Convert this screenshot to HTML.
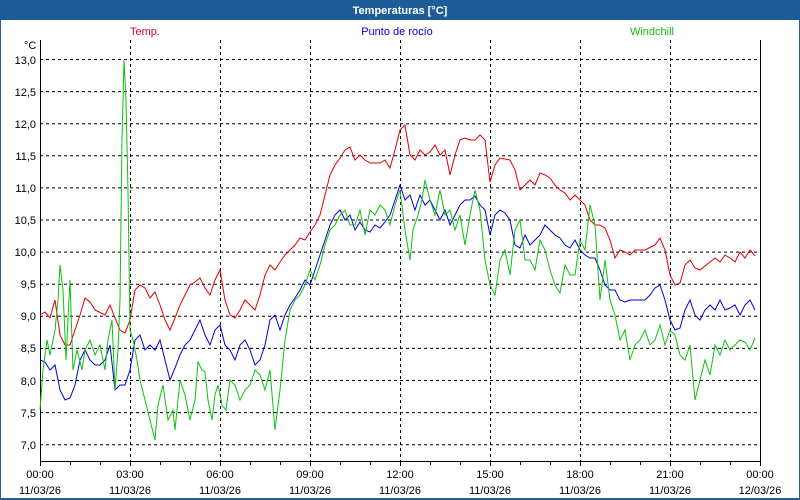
<!DOCTYPE html><html><head><style>body{margin:0;width:800px;height:500px;overflow:hidden;background:#fff}svg{display:block}text{font-family:"Liberation Sans",sans-serif;font-size:11px}</style></head><body>
<svg width="800" height="500" viewBox="0 0 800 500">
<rect x="0" y="0" width="800" height="500" fill="#2a6099"/>
<rect x="0" y="0" width="800" height="20" fill="#1e5c97"/>
<rect x="1" y="20" width="798" height="478" fill="#fff"/>
<text x="400" y="14" text-anchor="middle" fill="#fff" font-weight="bold">Temperaturas [°C]</text>
<text x="145" y="35" text-anchor="middle" fill="#e00030">Temp.</text>
<text x="397" y="35" text-anchor="middle" fill="#0000e0">Punto de rocío</text>
<text x="652" y="35" text-anchor="middle" fill="#10c010">Windchill</text>
<text x="24" y="49" text-anchor="start">°C</text>
<g stroke="#000" stroke-dasharray="3,3" stroke-width="1">
<path d="M40 59.5H760M40 91.6H760M40 123.7H760M40 155.8H760M40 187.9H760M40 220H760M40 252.1H760M40 284.2H760M40 316.3H760M40 348.4H760M40 380.5H760M40 412.6H760M40 444.7H760"/>
<path d="M130.5 40V461M220.5 40V461M310.5 40V461M400.5 40V461M490.5 40V461M580.5 40V461M670.5 40V461"/>
</g>
<path d="M40.5 40V461.5H760.5V40" stroke="#000" fill="none"/>
<g stroke="#000"><path d="M40.5 461v5M70.5 461v4M100.5 461v4M130.5 461v5M160.5 461v4M190.5 461v4M220.5 461v5M250.5 461v4M280.5 461v4M310.5 461v5M340.5 461v4M370.5 461v4M400.5 461v5M430.5 461v4M460.5 461v4M490.5 461v5M520.5 461v4M550.5 461v4M580.5 461v5M610.5 461v4M640.5 461v4M670.5 461v5M700.5 461v4M730.5 461v4M760.5 461v5"/></g>
<g text-anchor="end">
<text x="36" y="64">13,0</text><text x="36" y="96">12,5</text><text x="36" y="128">12,0</text><text x="36" y="160">11,5</text><text x="36" y="192">11,0</text><text x="36" y="224">10,5</text><text x="36" y="256">10,0</text><text x="36" y="288">9,5</text><text x="36" y="320">9,0</text><text x="36" y="352">8,5</text><text x="36" y="385">8,0</text><text x="36" y="417">7,5</text><text x="36" y="449">7,0</text>
</g>
<g text-anchor="middle">
<text x="40" y="478">00:00</text><text x="40" y="494">11/03/26</text>
<text x="130" y="478">03:00</text><text x="130" y="494">11/03/26</text>
<text x="220" y="478">06:00</text><text x="220" y="494">11/03/26</text>
<text x="310" y="478">09:00</text><text x="310" y="494">11/03/26</text>
<text x="400" y="478">12:00</text><text x="400" y="494">11/03/26</text>
<text x="490" y="478">15:00</text><text x="490" y="494">11/03/26</text>
<text x="580" y="478">18:00</text><text x="580" y="494">11/03/26</text>
<text x="670" y="478">21:00</text><text x="670" y="494">11/03/26</text>
<text x="760" y="478">00:00</text><text x="760" y="494">12/03/26</text>
</g>
<polyline fill="none" stroke="#e00000" points="40,315 45,312 50,318 55,300 60,335 65,345 70,345 75,330 80,315 85,298 90,302 95,310 105,315 110,305 115,318 120,330 125,333 130,320 135,290 140,285 145,288 150,298 155,292 160,305 165,320 170,330 175,318 180,305 185,295 190,285 195,282 200,278 205,288 210,295 215,280 220,270 225,300 230,315 235,318 240,310 245,300 250,305 255,310 260,295 265,275 270,265 275,270 280,262 285,255 290,250 295,245 300,238 305,240 310,232 315,225 320,215 325,195 330,175 335,165 340,158 345,150 350,147 355,160 360,155 365,160 370,163 380,163 385,160 390,168 395,150 400,130 405,125 410,155 415,160 420,150 425,155 430,152 435,145 440,155 445,150 450,175 455,155 460,140 465,138 470,140 475,140 480,135 485,140 490,182 495,165 500,158 510,160 515,170 520,190 525,185 530,180 535,185 540,173 545,175 550,178 555,185 560,190 565,193 570,200 575,195 580,200 585,205 590,220 595,225 600,225 605,228 610,240 615,258 620,250 625,252 630,255 635,250 645,250 655,245 660,238 665,250 670,275 675,285 680,283 685,265 690,260 695,268 700,270 710,262 715,258 720,262 725,255 730,258 735,262 740,252 745,258 750,250 755,256"/>
<polyline fill="none" stroke="#0000e0" points="40,360 45,362 50,370 55,365 60,390 65,400 70,398 75,385 80,360 85,350 90,360 95,365 100,365 105,360 110,345 115,390 120,385 125,385 130,370 135,340 140,335 145,350 150,345 155,350 160,340 165,360 170,380 175,368 180,355 185,345 190,340 195,330 200,320 205,335 210,345 215,330 220,325 225,345 230,350 235,360 240,345 245,340 250,350 255,365 260,360 265,345 270,320 275,315 280,330 285,315 290,305 295,298 300,290 305,280 310,285 315,270 320,255 325,240 330,225 335,215 340,210 345,220 350,215 355,230 360,222 365,230 370,232 375,225 380,228 385,222 390,215 395,200 400,185 405,200 410,195 415,210 420,195 425,205 430,200 435,210 440,220 445,210 450,225 455,215 460,205 465,200 470,200 475,196 480,205 485,210 490,235 495,215 500,210 505,213 510,220 515,245 520,248 525,235 530,245 535,240 540,235 545,225 550,230 555,235 560,238 565,245 570,248 575,240 580,250 585,255 590,258 595,258 600,270 605,285 610,290 615,290 620,300 625,302 630,300 640,300 645,300 650,295 655,288 660,285 665,300 670,320 675,330 680,328 685,310 690,300 695,315 700,320 705,310 710,305 715,310 720,300 725,310 730,308 735,305 740,315 745,305 750,300 755,310"/>
<polyline fill="none" stroke="#10c010" points="40,410 43,370 47,340 50,355 55,330 58,300 60,265 63,290 66,360 70,280 73,370 77,350 82,370 85,350 90,340 95,355 100,345 105,370 108,340 112,320 115,390 118,350 120,300 122,140 124,60 126,100 128,190 130,330 133,340 137,360 140,380 145,400 150,420 155,440 158,405 163,385 168,420 173,410 175,430 180,380 185,395 190,420 195,400 198,362 202,370 205,372 208,400 212,420 215,395 218,385 222,405 226,410 230,380 235,385 240,400 245,390 250,385 255,370 260,375 265,390 270,370 275,430 280,390 285,340 290,310 295,300 300,295 305,285 310,270 315,280 320,265 325,245 330,230 335,225 340,215 345,210 350,225 355,225 360,210 365,235 370,210 375,215 380,205 385,210 390,225 395,205 400,190 405,230 410,260 413,230 418,215 422,200 425,180 430,200 435,215 440,190 445,215 450,210 455,230 460,215 465,245 470,215 475,190 480,210 485,260 490,285 495,295 500,260 505,250 510,275 515,230 520,220 525,260 530,260 535,270 540,240 545,250 550,270 555,285 560,293 565,265 570,275 575,275 580,240 585,250 590,205 595,225 600,300 605,260 610,300 615,315 620,340 625,330 630,360 635,345 640,340 645,330 650,345 655,340 660,325 665,345 670,330 675,335 680,355 685,360 690,345 695,400 700,380 705,360 710,375 715,345 720,355 725,340 730,350 735,345 740,340 745,342 750,350 755,338"/>
</svg></body></html>
